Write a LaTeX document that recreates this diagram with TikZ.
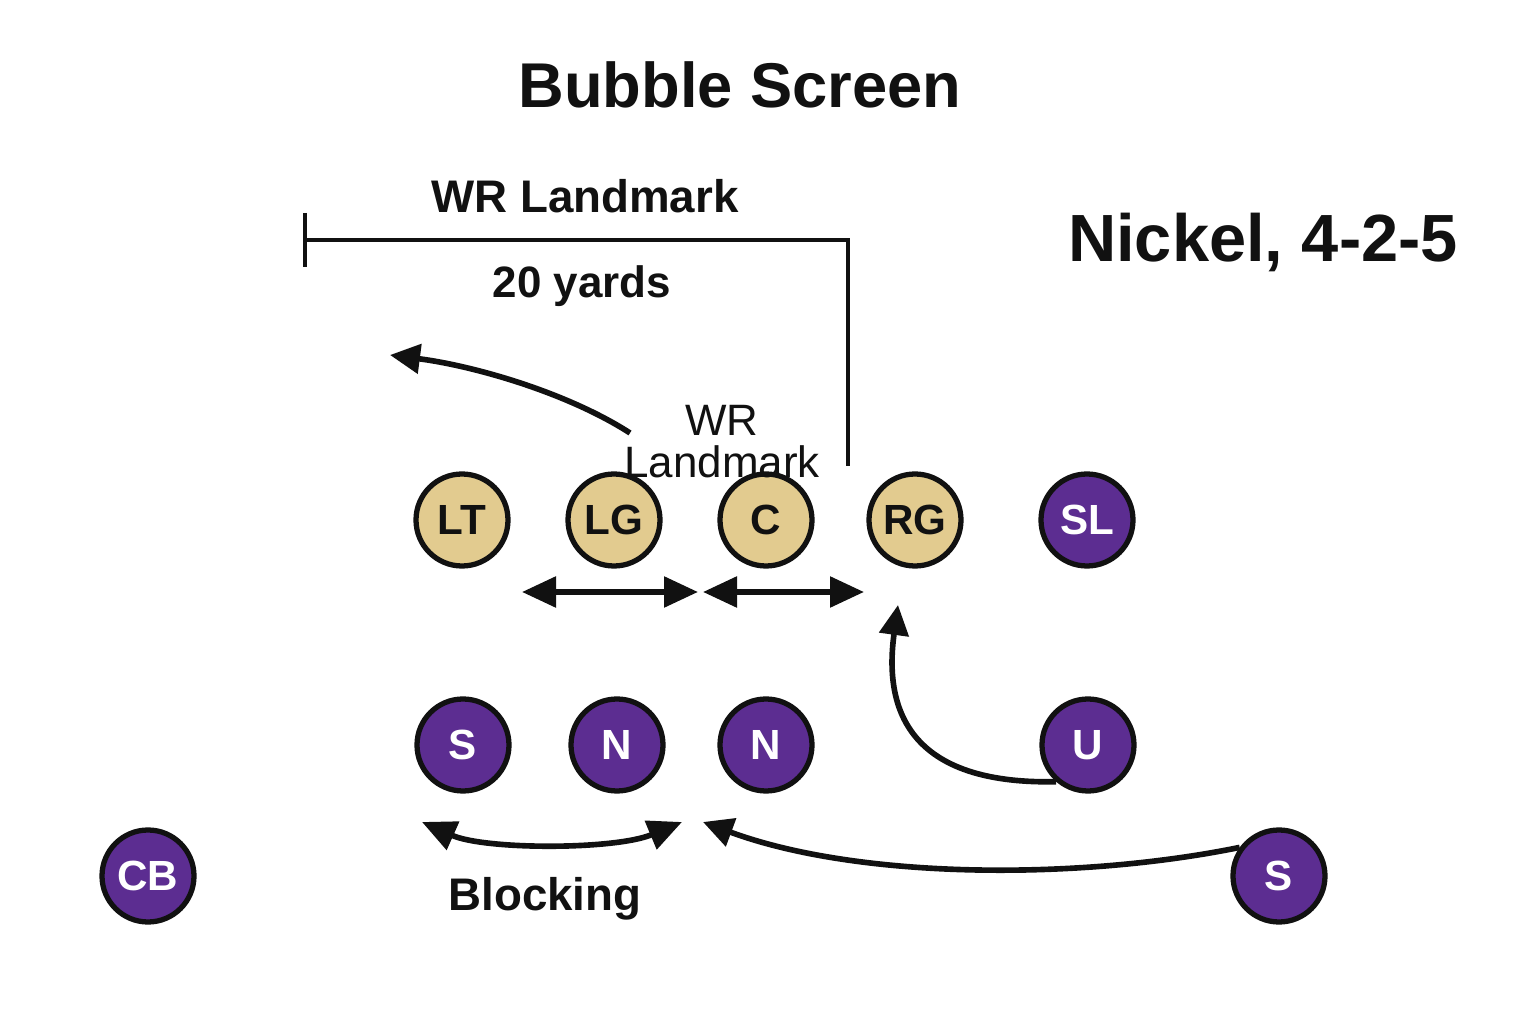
\documentclass[tikz,border=0pt]{standalone}
\usepackage{fontspec}
\setmainfont{Liberation Sans}
\usetikzlibrary{arrows.meta,positioning}
\definecolor{gold}{HTML}{E2CB8F}
\definecolor{husky}{HTML}{5C2D91}
\definecolor{ink}{HTML}{111111}
\tikzset{
  player/.style={circle,draw=ink,line width=1.5pt,minimum size=9.2mm,
                 inner sep=0pt,font=\fontsize{12}{12}\selectfont\bfseries},
  oline/.style={player,fill=gold,text=ink},
  defender/.style={player,fill=husky,text=white},
  route/.style={-{Triangle[length=3mm,width=2.9mm]},line width=1.6pt,
                draw=ink},
  tworoute/.style={{Triangle[length=3.4mm,width=3mm]}-{Triangle[length=3.4mm,width=3mm]},
                   line width=1.6pt,draw=ink},
  marker/.style={line width=0.95pt,draw=ink},
  headline/.style={text=ink,font=\fontsize{18}{20}\selectfont\bfseries},
  note/.style={text=ink,font=\fontsize{13}{14}\selectfont\bfseries}
}
\begin{document}
\begin{tikzpicture}[x=0.1mm,y=-0.1mm]
  \useasboundingbox[fill=white] (0,0) rectangle (1536,1024);
  % titles
  \node[headline] (title) at (740,85) {Bubble Screen};
  \node[headline,font=\fontsize{19}{20}\selectfont\bfseries] (front) at (1263,242) {Nickel, 4-2-5};
  % landmark bracket
  \coordinate (tickTop) at (305,213);
  \coordinate (tickBot) at (305,267);
  \coordinate (tickMid) at (305,240);
  \coordinate (markEnd) at (848,466);
  \draw[marker] (tickTop) -- (tickBot);
  \draw[marker] (tickMid) -| (markEnd);
  \node[note] (wrTop) at (585,196) {WR Landmark};
  \node[note,font=\fontsize{12.5}{14}\selectfont\bfseries] (depth) at (582,286) {20 yards};
  % offense
  \foreach \n/\x in {LT/462,LG/614,C/766,RG/915}
    \node[oline] (\n) at (\x,520) {\n};
  % defense
  \node[defender] (SL) at (1087,520) {SL};
  \node[defender] (sLeft) at (463,745) {S};
  \node[defender] (nOne) at (617,745) {N};
  \node[defender] (nTwo) at (766,745) {N};
  \node[defender] (U) at (1088,745) {U};
  \node[defender] (CB) at (148,876) {CB};
  \node[defender] (sRight) at (1279,876) {S};
  \node[text=ink,font=\fontsize{12.5}{14}\selectfont,align=center,inner sep=0pt]
    (wrMid) at (722,442) {WR\\[-2pt]Landmark};
  % routes
  \coordinate (bubbleStart) at (630,433);
  \coordinate (bubbleEnd) at (390,355);
  \draw[route] (bubbleStart) .. controls (568,393) and (475,366) .. (bubbleEnd);
  \coordinate (gapA) at (522,592);
  \coordinate (gapB) at (698,592);
  \coordinate (gapC) at (703,592);
  \coordinate (gapD) at (864,592);
  \draw[tworoute] (gapA) -- (gapB);
  \draw[tworoute] (gapC) -- (gapD);
  \coordinate (uEnd) at (898,605);
  \draw[route] (U.229) .. controls (900,785) and (885,700) .. (uEnd);
  \coordinate (blockL) at (422,822);
  \coordinate (blockR) at (682,822);
  \draw[tworoute] (blockL) .. controls (485,850) and (615,850) .. (blockR);
  \coordinate (sEnd) at (703,822);
  \draw[route] (sRight.144) .. controls (1080,880) and (860,880) .. (sEnd);
  \node[note] (block) at (545,899) {Blocking};
\end{tikzpicture}
\end{document}
